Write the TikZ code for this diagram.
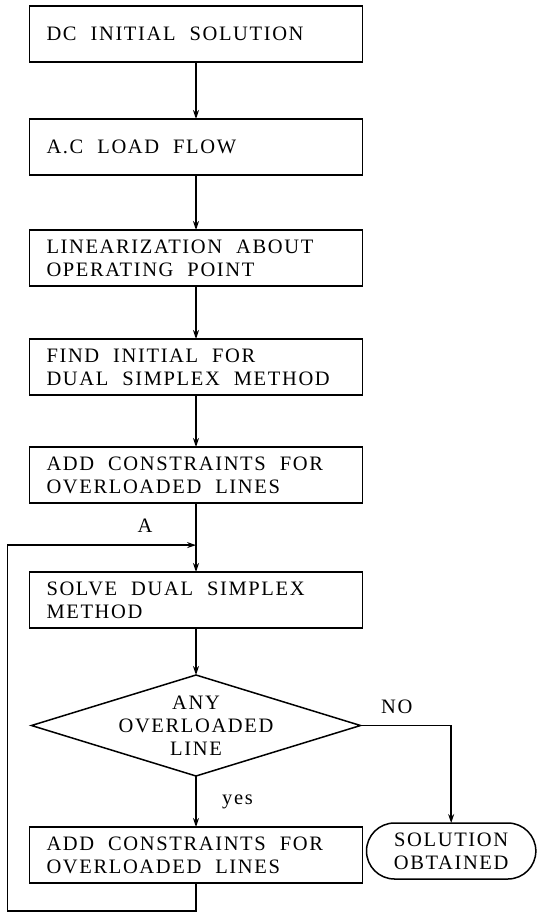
\documentclass[tikz,border=0pt]{standalone}
\usepackage{fontspec}
\setmainfont{Liberation Serif}[LetterSpace=8]
\usetikzlibrary{arrows.meta, positioning, calc, shapes.geometric, shapes.misc}

\begin{document}
\begin{tikzpicture}[x=1pt, y=1pt, >={Stealth[length=9pt,width=6pt]}, ->, line width=1.8pt,
		node distance=54pt, font=\fontsize{20.5}{23}\selectfont]
		\tikzstyle{procbox}=[rectangle, draw, line width=1.5pt, outer sep=0pt, text width=299pt, inner xsep=17pt, minimum height=56pt, align=left,
			execute at begin node={\spaceskip=14pt plus 2pt\relax}]
		\tikzstyle{decide}=[diamond, draw, line width=1.5pt, outer sep=0pt, minimum width=329pt, minimum height=101pt, inner sep=0pt]
		\tikzstyle{terminal}=[rounded rectangle, draw, line width=1.5pt, outer sep=0pt, minimum width=176pt, minimum height=56pt, align=center]
		
		\useasboundingbox (0,0) rectangle (543,-914);
		
		\node[procbox] (dc)                      at (196,-34) {DC INITIAL SOLUTION};
		\node[procbox] (acflow) [below=57pt of dc]     {A.C LOAD FLOW};
		\node[procbox] (linear) [below=55pt of acflow] {LINEARIZATION ABOUT\\OPERATING POINT};
		\node[procbox] (init)   [below=53pt of linear] {FIND INITIAL FOR\\DUAL SIMPLEX METHOD};
		\node[procbox] (addA)   [below=52pt of init]   {ADD CONSTRAINTS FOR\\OVERLOADED LINES};
		\node[procbox] (solve)  [below=69pt of addA]   {SOLVE DUAL SIMPLEX\\METHOD};
		\node[decide, label={[align=center]center:ANY\\OVERLOADED\\LINE}] (any) [below=47pt of solve] {};
		\node[procbox] (addB)   [below=51pt of any]    {ADD CONSTRAINTS FOR\\OVERLOADED LINES};
		\node[terminal] (sol)   [right=4pt of addB, yshift=4pt] {SOLUTION\\OBTAINED};
		
		\coordinate (junct) at ($(addA.south)!0.61!(solve.north)$);
		\coordinate (loopbot) at ($(addB.south)+(0,-28)$);
		\coordinate (loopleft) at ($(addB.west)+(-22,0)$);
		\node (labA) at ($(junct)+(-51,19)$) {A};
		
		\path (dc) edge (acflow)
		(acflow) edge (linear)
		(linear) edge (init)
		(init) edge (addA)
		(addA) edge (solve)
		(solve) edge (any);
		\draw (any) -- node[right=22pt] {yes} (addB);
		\draw (any.east) -| node[above=8pt, pos=0.2] {NO} (sol.north);
		\draw (addB.south) -- (loopbot) -| (loopleft) |- (junct);
	\end{tikzpicture}
\end{document}
